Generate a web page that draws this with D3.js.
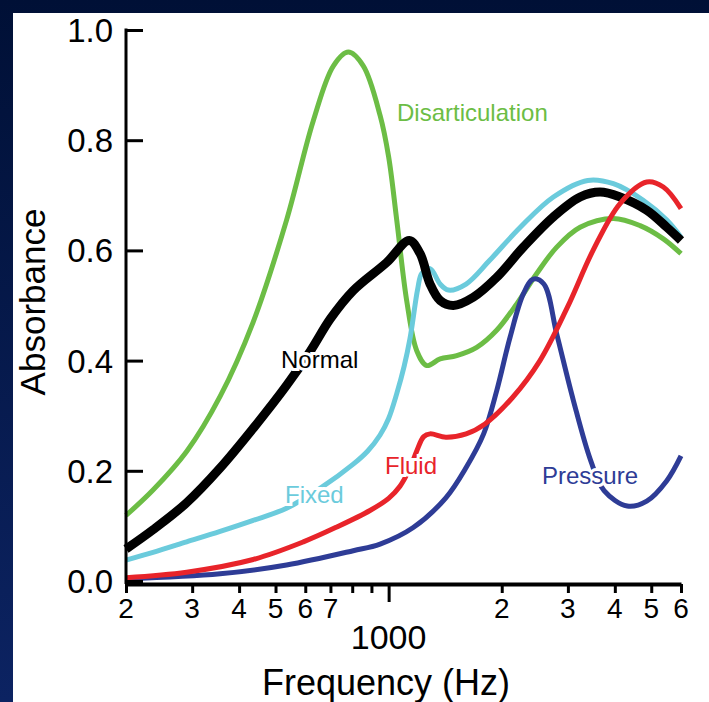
<!DOCTYPE html>
<html>
<head>
<meta charset="utf-8">
<script src="https://cdn.jsdelivr.net/npm/d3@7"></script>
<style>
  body { margin: 0; background: #00133c; }
  text { font-family: "Liberation Sans", Arial, Helvetica, sans-serif; }
</style>
</head>
<body>
<script>
// absorbance curves, [frequency Hz, absorbance]
var normal = [[200,0.058],[236,0.093],[290,0.142],[356,0.205],[436,0.277],[535,0.355],[620,0.418],[700,0.476],[805,0.527],[988,0.578],[1135,0.618],[1213,0.594],[1289,0.539],[1371,0.509],[1487,0.500],[1680,0.515],[1939,0.551],[2283,0.606],[2745,0.661],[3233,0.697],[3653,0.706],[4130,0.697],[4864,0.673],[5500,0.642],[6000,0.618]];
var fixed = [[200,0.038],[236,0.052],[290,0.071],[356,0.090],[436,0.110],[535,0.132],[657,0.168],[805,0.212],[880,0.236],[949,0.265],[1000,0.295],[1051,0.34],[1100,0.39],[1140,0.44],[1195,0.53],[1225,0.558],[1289,0.567],[1371,0.539],[1442,0.528],[1608,0.539],[1858,0.582],[2241,0.642],[2745,0.697],[3387,0.727],[3964,0.721],[4760,0.691],[5500,0.655],[6000,0.624]];
var disarticulation = [[200,0.119],[236,0.165],[290,0.235],[356,0.335],[436,0.47],[535,0.655],[630,0.835],[713,0.935],[781,0.960],[856,0.935],[949,0.845],[1000,0.77],[1051,0.655],[1117,0.509],[1188,0.418],[1263,0.391],[1371,0.403],[1518,0.409],[1716,0.424],[1939,0.455],[2193,0.503],[2479,0.558],[2802,0.606],[3233,0.642],[3964,0.658],[4669,0.645],[5385,0.621],[6000,0.594]];
var fluid = [[200,0.006],[290,0.016],[436,0.039],[593,0.071],[728,0.098],[892,0.128],[1000,0.15],[1072,0.172],[1140,0.205],[1188,0.236],[1240,0.262],[1289,0.267],[1420,0.261],[1608,0.267],[1805,0.285],[2137,0.333],[2528,0.40],[2992,0.497],[3500,0.60],[4130,0.685],[4864,0.724],[5385,0.715],[6000,0.676]];
var pressure = [[200,0.004],[356,0.013],[535,0.029],[805,0.055],[949,0.067],[1163,0.097],[1420,0.151],[1608,0.206],[1790,0.267],[1939,0.345],[2104,0.442],[2283,0.521],[2427,0.548],[2589,0.539],[2802,0.448],[3104,0.327],[3452,0.218],[3745,0.164],[4316,0.136],[4864,0.145],[5500,0.182],[6000,0.227]];

var xTicks = [200,300,400,500,600,700,800,900,1000,2000,3000,4000,5000,6000];
var xTickLabels = {200:"2",300:"3",400:"4",500:"5",600:"6",700:"7",2000:"2",3000:"3",4000:"4",5000:"5",6000:"6"};
var yTicks = [0,0.2,0.4,0.6,0.8,1.0];

var W = 709, H = 702;
var svg = d3.select("body").append("svg").attr("width", W).attr("height", H);

var grad = svg.append("defs").append("linearGradient")
  .attr("id", "bg").attr("x1", 0).attr("y1", 0).attr("x2", 0).attr("y2", 1);
grad.append("stop").attr("offset", "0%").attr("stop-color", "#001036");
grad.append("stop").attr("offset", "100%").attr("stop-color", "#0c2362");

svg.append("rect").attr("width", W).attr("height", H).attr("fill", "url(#bg)");
svg.append("rect").attr("x", 13).attr("y", 13).attr("width", W - 13).attr("height", H - 13).attr("fill", "#fff");

var x = d3.scaleLog().domain([200, 6000]).range([126, 681]);
var y = d3.scaleLinear().domain([0, 1]).range([581, 30]);

var line = d3.line()
  .x(function (d) { return x(d[0]); })
  .y(function (d) { return y(d[1]); })
  .curve(d3.curveCatmullRom.alpha(0.5));

// curves
var series = [
  { data: disarticulation, color: "#6cbd45", w: 5 },
  { data: fixed, color: "#6bcbdc", w: 5 },
  { data: normal, color: "#000", w: 9 },
  { data: pressure, color: "#2e3c96", w: 5 },
  { data: fluid, color: "#e8242a", w: 5 }
];
series.forEach(function (s) {
  svg.append("path").datum(s.data)
    .attr("d", line)
    .attr("fill", "none")
    .attr("stroke", s.color)
    .attr("stroke-width", s.w)
    .attr("stroke-linejoin", "round");
});

// y axis, ticks point inward
var yAxis = svg.append("g").attr("transform", "translate(126,0)")
  .call(d3.axisRight(y).tickValues(yTicks).tickSize(17).tickFormat(""));
yAxis.select(".domain").remove();
yAxis.selectAll("line").attr("stroke", "#000").attr("stroke-width", 3);
svg.append("line").attr("x1", 126).attr("x2", 126).attr("y1", y(1) - 1.5).attr("y2", 584)
  .attr("stroke", "#000").attr("stroke-width", 3);
svg.selectAll(".ylab").data(yTicks).enter().append("text")
  .attr("x", 113).attr("y", function (d) { return y(d) + 12; })
  .attr("text-anchor", "end").attr("font-size", 33)
  .text(function (d) { return d.toFixed(1); });

// x axis
var xAxis = svg.append("g").attr("transform", "translate(0,584)")
  .call(d3.axisBottom(x).tickValues(xTicks).tickSizeOuter(0).tickFormat(""));
xAxis.select(".domain").attr("stroke", "#000").attr("stroke-width", 4);
xAxis.selectAll("line")
  .attr("stroke", "#000").attr("stroke-width", 3)
  .attr("y2", function (d) { return d === 1000 ? 18 : 9; });
svg.selectAll(".xlab").data(xTicks.filter(function (d) { return xTickLabels[d]; }))
  .enter().append("text")
  .attr("x", function (d) { return x(d); }).attr("y", 618)
  .attr("text-anchor", "middle").attr("font-size", 28)
  .text(function (d) { return xTickLabels[d]; });
svg.append("text").attr("x", x(1000)).attr("y", 649)
  .attr("text-anchor", "middle").attr("font-size", 34).text("1000");

svg.append("text").attr("x", 386).attr("y", 695)
  .attr("text-anchor", "middle").attr("font-size", 36).text("Frequency (Hz)");
svg.append("text").attr("transform", "translate(45,302) rotate(-90)")
  .attr("text-anchor", "middle").attr("font-size", 35).text("Absorbance");

// curve labels
var labels = [
  { t: "Disarticulation", x: 397, y: 121, c: "#6cbd45" },
  { t: "Normal", x: 281, y: 368, c: "#000" },
  { t: "Fixed", x: 285, y: 503, c: "#6bcbdc" },
  { t: "Fluid", x: 385, y: 474, c: "#e8242a" },
  { t: "Pressure", x: 542, y: 484, c: "#2e3c96" }
];
svg.selectAll(".lab").data(labels).enter().append("text")
  .attr("x", function (d) { return d.x; }).attr("y", function (d) { return d.y; })
  .attr("font-size", 24)
  .attr("fill", function (d) { return d.c; })
  .attr("stroke", "#fff").attr("stroke-width", 6).attr("paint-order", "stroke")
  .text(function (d) { return d.t; });
</script>
</body>
</html>
